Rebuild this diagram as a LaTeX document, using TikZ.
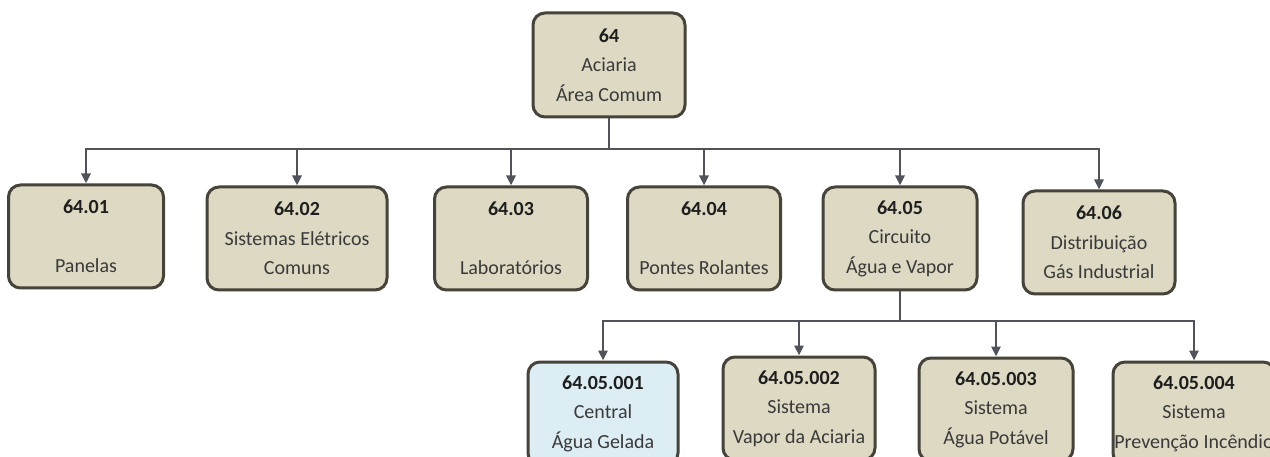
\documentclass[tikz,border=0pt]{standalone}
\usepackage{fontspec}
\setmainfont{Carlito}
\usetikzlibrary{arrows.meta}
\definecolor{boxfill}{HTML}{DDD9C3}
\definecolor{bluefill}{HTML}{DCEDF3}
\definecolor{boxline}{HTML}{45433A}
\definecolor{connclr}{HTML}{50545A}
\definecolor{txt}{HTML}{3A3A3A}
\definecolor{numclr}{HTML}{1E1E1E}
\tikzset{
  unit/.style={draw=boxline, line width=3pt, fill=boxfill, rounded corners=12pt,
    minimum width=153pt, minimum height=103pt, inner sep=0pt, align=center,
    font=\fontsize{20}{29.5}\selectfont, text=txt},
  bluebox/.style={unit, fill=bluefill},
  connline/.style={draw=connclr, line width=2.5pt},
  arr/.style={connline, -{Triangle[length=10pt,width=9pt]}},
}
\newcommand{\unitnum}[1]{\textcolor{numclr}{\textbf{#1}}}
\begin{document}
\begin{tikzpicture}[x=1pt,y=-1pt]
\clip (0,0) rectangle (1270,457);
\fill[white] (0,0) rectangle (1270,457);
% top
\node[unit, minimum width=152pt, minimum height=104pt] (n64) at (609,65) {\unitnum{64}\\Aciaria\\Área Comum};
% row 1
\node[unit, minimum width=155pt] (n01) at (86,236.5) {\unitnum{64.01}\\\mbox{}\\Panelas};
\node[unit, minimum width=180pt] (n02) at (297,238.5) {\unitnum{64.02}\\Sistemas Elétricos\\Comuns};
\node[unit] (n03) at (511,238.5) {\unitnum{64.03}\\\mbox{}\\Laboratórios};
\node[unit] (n04) at (704,238.5) {\unitnum{64.04}\\\mbox{}\\Pontes Rolantes};
\node[unit, minimum width=154pt] (n05) at (900,238.5) {\unitnum{64.05}\\Circuito\\Água e Vapor};
\node[unit, minimum width=152pt] (n06) at (1099,242.5) {\unitnum{64.06}\\Distribuição\\Gás Industrial};
% row 2
\node[bluebox, minimum width=150pt] (m1) at (603,413.5) {\unitnum{64.05.001}\\Central\\Água Gelada};
\node[unit, minimum width=152pt] (m2) at (799,408.5) {\unitnum{64.05.002}\\Sistema\\Vapor da Aciaria};
\node[unit, minimum width=154pt] (m3) at (996,409.5) {\unitnum{64.05.003}\\Sistema\\Água Potável};
\node[unit, minimum width=162pt] (m4) at (1194,413.5) {\unitnum{64.05.004}\\Sistema\\Prevenção Incêndio};
% connectors
\coordinate (j1) at (n64.south |- 0,149);
\coordinate (j2) at (n05.south |- 0,321);
\draw[connline] (n64.south) -- (j1);
\foreach \c in {n01,n02,n03,n04,n05,n06} {
  \draw[arr] (j1) -| (\c.north);
}
\draw[connline] (n05.south) -- (j2);
\foreach \c in {m1,m2,m3,m4} {
  \draw[arr] (j2) -| (\c.north);
}
\end{tikzpicture}
\end{document}
